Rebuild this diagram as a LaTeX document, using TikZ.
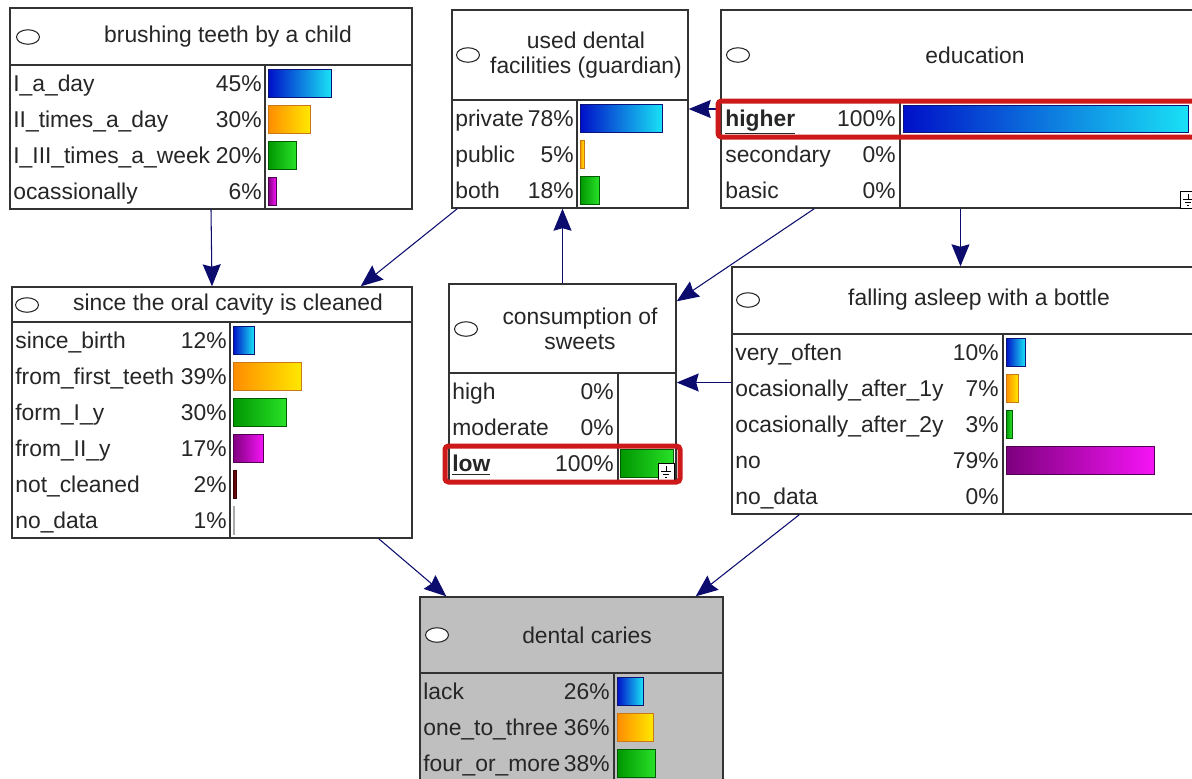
\documentclass[tikz,border=0pt]{standalone}
\usepackage{fontspec}
\setmainfont{Liberation Sans}
\usepackage{tikz}
\usetikzlibrary{arrows.meta, positioning, fit, shapes.geometric}
\usepackage{xcolor}

\definecolor{arrnavy}{RGB}{12,12,110}
\definecolor{hired}{RGB}{205,25,25}
\definecolor{bluL}{RGB}{0,15,200}
\definecolor{bluR}{RGB}{25,225,245}
\definecolor{bluE}{RGB}{10,20,120}
\definecolor{oraL}{RGB}{255,140,0}
\definecolor{oraR}{RGB}{255,232,0}
\definecolor{oraE}{RGB}{200,120,20}
\definecolor{grnL}{RGB}{0,150,0}
\definecolor{grnR}{RGB}{40,225,40}
\definecolor{grnE}{RGB}{0,90,0}
\definecolor{purL}{RGB}{125,0,125}
\definecolor{purR}{RGB}{245,20,245}
\definecolor{purE}{RGB}{80,0,80}
\definecolor{marL}{RGB}{60,0,0}
\definecolor{marR}{RGB}{130,20,20}
\definecolor{gryE}{RGB}{170,170,170}

\begin{document}
\begin{tikzpicture}[
  x=0.02cm, y=-0.02cm,
  font=\fontsize{13}{14.5}\selectfont,
  frame/.style={draw=black!80, line width=0.8pt, fill=white, inner sep=0pt},
  greyframe/.style={frame, fill=black!25},
  rule/.style={draw=black!80, line width=0.8pt},
  icon/.style={ellipse, draw=black!85, fill=white, line width=0.6pt,
               minimum width=0.46cm, minimum height=0.29cm, inner sep=0pt},
  head/.style={align=center, inner sep=0pt, text=black!85},
  lab/.style={anchor=west, inner sep=0pt, text height=9.3pt, text depth=0pt,
              text=black!85},
  pct/.style={lab, anchor=east},
  arr/.style={-{Stealth[length=0.44cm, width=0.36cm, inset=0.05cm]}, draw=arrnavy,
              line width=0.6pt},
  hilite/.style={draw=hired, line width=0.1cm, rounded corners=2pt},
  blubar/.style={draw=bluE, left color=bluL, right color=bluR, line width=0.5pt},
  orabar/.style={draw=oraE, left color=oraL, right color=oraR, line width=0.5pt},
  grnbar/.style={draw=grnE, left color=grnL, right color=grnR, line width=0.5pt},
  purbar/.style={draw=purE, left color=purL, right color=purR, line width=0.5pt},
  marbar/.style={draw=marL, left color=marL, right color=marR, line width=0.5pt},
  grybar/.style={draw=gryE, fill=gryE, line width=0.4pt},
]
  \useasboundingbox (0,0) rectangle (1192,778);
  \clip (0,0) rectangle (1192,778);
  \fill[white] (0,0) rectangle (1192,778);

  % frames of the network nodes
  \node[frame, fit={(10,8) (412,209)}]      (brush)  {};
  \node[frame, fit={(452,10) (688,208)}]    (dent)   {};
  \node[frame, fit={(721,10) (1200,208)}]   (edu)    {};
  \node[frame, fit={(12,287) (412,538)}]    (oral)   {};
  \node[frame, fit={(449,284) (676,481)}]   (sweets) {};
  \node[frame, fit={(732,267) (1200,514)}]  (bottle) {};
  \node[greyframe, fit={(420,597) (723,800)}] (caries) {};

  \draw[rule] (10,65) -- (412,65) (265,65) -- (265,209);
  \draw[rule] (452,100) -- (688,100) (577,100) -- (577,208);
  \draw[rule] (721,100) -- (1200,100) (900,100) -- (900,208);
  \draw[rule] (12,322) -- (412,322) (230,322) -- (230,538);
  \draw[rule] (449,373) -- (676,373) (618,373) -- (618,481);
  \draw[rule] (732,334) -- (1200,334) (1003,334) -- (1003,514);
  \draw[rule] (420,673) -- (723,673) (614,673) -- (614,800);

  % links
  \draw[arr] (brush.south) -- (oral.north);
  \draw[arr] ([xshift=0.12cm]dent.south west) -- ([xshift=-1.04cm]oral.north east);
  \draw[arr] (sweets.north) -- (sweets.north |- dent.south);
  \draw[arr] (edu.west) -- (dent.east);
  \draw[arr] ([xshift=1.88cm]edu.south west) -- ([yshift=-0.36cm]sweets.north east);
  \draw[arr] (edu.south) -- (edu.south |- bottle.north);
  \draw[arr] (bottle.west |- sweets.east) -- (sweets.east);
  \draw[arr] ([xshift=-0.68cm]oral.south east) -- ([xshift=0.54cm]caries.north west);
  \draw[arr] ([xshift=1.36cm]bottle.south west) -- ([xshift=-0.56cm]caries.north east);

  % titles
  \node[icon] (brushI)  at (28,37)   {};
  \node[head] (brushT)  at (228,37)  {brushing teeth by a child};
  \node[icon] (dentI)   at (468,55)  {};
  \node[head] (dentT)   at (586,55)  {used dental\\facilities (guardian)};
  \node[icon] (eduI)    at (738,55)  {};
  \node[head] (eduT)    at (975,55)  {education};
  \node[icon] (oralI)   at (27,305)  {};
  \node[head] (oralT)   at (228,305) {since the oral cavity is cleaned};
  \node[icon] (sweetsI) at (466,329) {};
  \node[head] (sweetsT) at (580,329) {consumption of\\sweets};
  \node[icon] (bottleI) at (748,300) {};
  \node[head] (bottleT) at (979,300) {falling asleep with a bottle};
  \node[icon] (cariesI) at (437,635) {};
  \node[head] (cariesT) at (587,635) {dental caries};

  % brushing teeth by a child
  \node[lab] (brushL1) at (13,83)  {I\_a\_day};
  \node[pct] (brushP1) at (262,83) {45\%};
  \node[lab] (brushL2) at (13,119) {II\_times\_a\_day};
  \node[pct] (brushP2) at (262,119) {30\%};
  \node[lab] (brushL3) at (13,155) {I\_III\_times\_a\_week};
  \node[pct] (brushP3) at (262,155) {20\%};
  \node[lab] (brushL4) at (13,191) {ocassionally};
  \node[pct] (brushP4) at (262,191) {6\%};
  \draw[blubar] (268,69)  rectangle ++(63,28);
  \draw[orabar] (268,105) rectangle ++(42,28);
  \draw[grnbar] (268,141) rectangle ++(28,28);
  \draw[purbar] (268,177) rectangle ++(8,28);

  % used dental facilities
  \node[lab] (dentL1) at (455,118) {private};
  \node[pct] (dentP1) at (574,118) {78\%};
  \node[lab] (dentL2) at (455,154) {public};
  \node[pct] (dentP2) at (574,154) {5\%};
  \node[lab] (dentL3) at (455,190) {both};
  \node[pct] (dentP3) at (574,190) {18\%};
  \draw[blubar] (580,104) rectangle ++(82,28);
  \draw[orabar] (580,140) rectangle ++(4,28);
  \draw[grnbar] (580,176) rectangle ++(19,28);

  % education
  \node[lab] (eduL1) at (725,118) {\textbf{\underline{higher}}};
  \node[pct] (eduP1) at (896,118) {100\%};
  \node[lab] (eduL2) at (725,154) {secondary};
  \node[pct] (eduP2) at (896,154) {0\%};
  \node[lab] (eduL3) at (725,190) {basic};
  \node[pct] (eduP3) at (896,190) {0\%};
  \draw[blubar] (903,105) rectangle ++(285,27);
  \draw[fill=white, line width=0.5pt] (1180,191) rectangle (1196,208);
  \draw[line width=0.5pt] (1188,194) -- (1188,199) (1183,199) -- (1193,199)
    (1185,202) -- (1191,202) (1187,205) -- (1189,205);

  % since the oral cavity is cleaned
  \node[lab] (oralL1) at (15,340) {since\_birth};
  \node[pct] (oralP1) at (227,340) {12\%};
  \node[lab] (oralL2) at (15,376) {from\_first\_teeth};
  \node[pct] (oralP2) at (227,376) {39\%};
  \node[lab] (oralL3) at (15,412) {form\_I\_y};
  \node[pct] (oralP3) at (227,412) {30\%};
  \node[lab] (oralL4) at (15,448) {from\_II\_y};
  \node[pct] (oralP4) at (227,448) {17\%};
  \node[lab] (oralL5) at (15,484) {not\_cleaned};
  \node[pct] (oralP5) at (227,484) {2\%};
  \node[lab] (oralL6) at (15,520) {no\_data};
  \node[pct] (oralP6) at (227,520) {1\%};
  \draw[blubar] (233,326) rectangle ++(21,28);
  \draw[orabar] (233,362) rectangle ++(68,28);
  \draw[grnbar] (233,398) rectangle ++(53,28);
  \draw[purbar] (233,434) rectangle ++(30,28);
  \draw[marbar] (233,470) rectangle ++(3,28);
  \draw[grybar] (233,506) rectangle ++(1,28);

  % consumption of sweets
  \node[lab] (sweetsL1) at (452,391) {high};
  \node[pct] (sweetsP1) at (614,391) {0\%};
  \node[lab] (sweetsL2) at (452,427) {moderate};
  \node[pct] (sweetsP2) at (614,427) {0\%};
  \node[lab] (sweetsL3) at (452,463) {\textbf{\underline{low}}};
  \node[pct] (sweetsP3) at (614,463) {100\%};
  \draw[grnbar] (620,449) rectangle ++(53,28);
  \draw[fill=white, line width=0.5pt] (658,463) rectangle (674,480);
  \draw[line width=0.5pt] (666,466) -- (666,471) (661,471) -- (671,471)
    (663,474) -- (669,474) (665,477) -- (667,477);

  % falling asleep with a bottle
  \node[lab] (bottleL1) at (735,352) {very\_often};
  \node[pct] (bottleP1) at (999,352) {10\%};
  \node[lab] (bottleL2) at (735,388) {ocasionally\_after\_1y};
  \node[pct] (bottleP2) at (999,388) {7\%};
  \node[lab] (bottleL3) at (735,424) {ocasionally\_after\_2y};
  \node[pct] (bottleP3) at (999,424) {3\%};
  \node[lab] (bottleL4) at (735,460) {no};
  \node[pct] (bottleP4) at (999,460) {79\%};
  \node[lab] (bottleL5) at (735,496) {no\_data};
  \node[pct] (bottleP5) at (999,496) {0\%};
  \draw[blubar] (1006,338) rectangle ++(19,28);
  \draw[orabar] (1006,374) rectangle ++(12,28);
  \draw[grnbar] (1006,410) rectangle ++(6,28);
  \draw[purbar] (1006,446) rectangle ++(148,28);

  % dental caries
  \node[lab] (cariesL1) at (423,691) {lack};
  \node[pct] (cariesP1) at (610,691) {26\%};
  \node[lab] (cariesL2) at (423,727) {one\_to\_three};
  \node[pct] (cariesP2) at (610,727) {36\%};
  \node[lab] (cariesL3) at (423,763) {four\_or\_more};
  \node[pct] (cariesP3) at (610,763) {38\%};
  \draw[blubar] (617,677) rectangle ++(26,28);
  \draw[orabar] (617,713) rectangle ++(36,28);
  \draw[grnbar] (617,749) rectangle ++(38,28);

  % findings
  \draw[hilite] (718,101) rectangle (1197,137);
  \draw[hilite] (445,446) rectangle (680,482);
\end{tikzpicture}
\end{document}
